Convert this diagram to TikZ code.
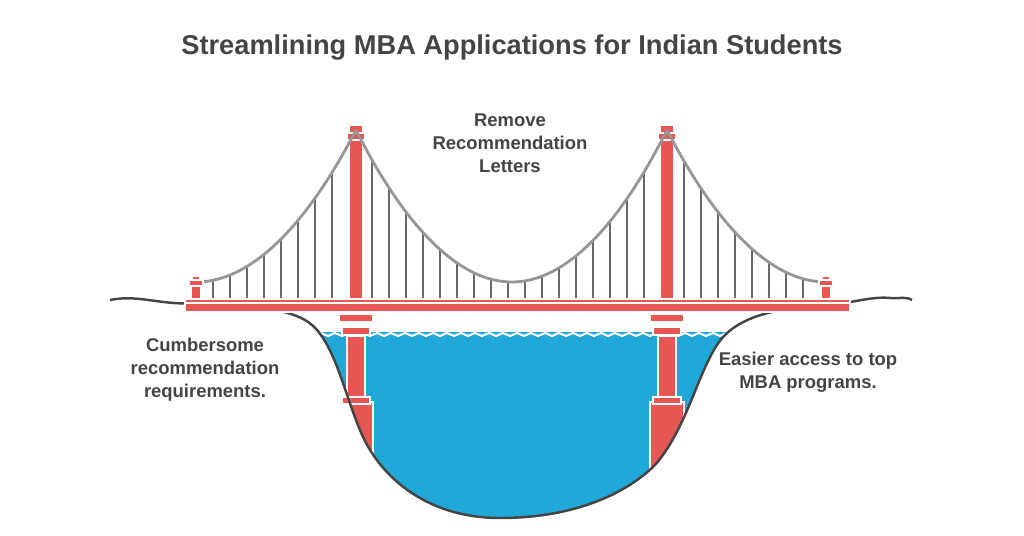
\documentclass[tikz,border=0pt]{standalone}
\usepackage{fontspec}
\setmainfont{Liberation Sans}
\definecolor{towerred}{RGB}{229, 87, 83}
\definecolor{waterblue}{RGB}{31, 168, 216}
\definecolor{inkgray}{RGB}{68, 68, 68}
\definecolor{cablegray}{RGB}{150, 150, 150}
\tikzset{
  label/.style={font=\bfseries\fontsize{10.5}{13}\selectfont, text=inkgray, align=center},
  redpart/.style={fill=towerred, draw=white, line width=0.6pt},
  hanger/.style={draw=inkgray!80, line width=1pt},
  cable/.style={draw=cablegray, line width=1.6pt}
}
\newcommand{\bowl}{(110,300) .. controls (140,294) and (160,306) .. (200,303)
  .. controls (260,306) and (295,310) .. (312,325)
  .. controls (335,345) and (345,395) .. (360,430)
  .. controls (378,475) and (425,518) .. (500,518)
  .. controls (580,518) and (630,490) .. (655,465)
  .. controls (690,425) and (700,360) .. (725,335)
  .. controls (745,315) and (780,308) .. (820,306)
  .. controls (850,304) and (870,296) .. (890,298)
  .. controls (900,299) and (905,296) .. (912,300)}
\begin{document}
\begin{tikzpicture}[x=0.02cm, y=-0.02cm]
  \useasboundingbox (0,0) rectangle (1024,536);
  \node[font=\bfseries\fontsize{15.5}{19}\selectfont, text=inkgray] (title) at (512,48) {Streamlining MBA Applications for Indian Students};
  % water
  \begin{scope}
    \clip (0,333) rectangle (1024,536);
    \fill[waterblue] \bowl -- cycle;
  \end{scope}
  \begin{scope}
    \clip \bowl -- cycle;
    \draw[white, line width=1.2pt] (300,336) \foreach \i in {0,...,32} {-- ++(7,-3) -- ++(7,3)};
  \end{scope}
  % lower towers
  \foreach \tx/\nm in {356/west, 667/east} {
    \begin{scope}
      \clip \bowl -- cycle;
      \filldraw[redpart] (\tx-17,402) rectangle (\tx+17,536);
    \end{scope}
    \filldraw[redpart] (\tx-9,336) rectangle (\tx+9,402);
    \filldraw[redpart] (\tx-14,327) rectangle (\tx+14,335);
    \filldraw[redpart] (\tx-17,314) rectangle (\tx+17,322);
    \filldraw[redpart] (\tx-14,397) rectangle (\tx+14,404);
    \filldraw[redpart] (\tx-7,125) rectangle (\tx+7,300);
    \filldraw[redpart] (\tx-9,133) rectangle (\tx+9,140);
    \coordinate (top-\nm) at (\tx,130);
  }
  \draw[inkgray, line width=1.4pt] \bowl;
  % hangers
  \foreach \hx in {213,230,...,340} {
    \pgfmathsetmacro{\hy}{282-152*((\hx-196)/160)^2}
    \draw[hanger] (\hx,\hy) -- (\hx,300);
  }
  \foreach \hx in {372,389,...,655} {
    \pgfmathsetmacro{\hy}{282-152*((\hx-512)/155.5)^2}
    \draw[hanger] (\hx,\hy) -- (\hx,300);
  }
  \foreach \hx in {684,701,...,815} {
    \pgfmathsetmacro{\hy}{282-152*((826-\hx)/159)^2}
    \draw[hanger] (\hx,\hy) -- (\hx,300);
  }
  % cables
  \coordinate (end-west) at (196,282);
  \coordinate (end-east) at (826,282);
  \draw[cable] (end-west) parabola (top-west);
  \draw[cable] (top-west) parabola bend (512,282) (top-east);
  \draw[cable] (end-east) parabola (top-east);
  % end posts and deck
  \foreach \ex in {196, 826} {
    \filldraw[redpart] (\ex-5,285) rectangle (\ex+5,300);
    \filldraw[redpart] (\ex-7,280) rectangle (\ex+7,286);
    \filldraw[redpart] (\ex-4,276) rectangle (\ex+4,280);
  }
  \filldraw[redpart] (185,299) rectangle (850,312);
  \draw[white, line width=1pt] (185,303) -- (850,303);
  % labels
  \node[label] (remove) at (510,143) {Remove\\Recommendation\\Letters};
  \node[label] (cumbersome) at (205,370) {Cumbersome\\recommendation\\requirements.};
  \node[label] (easier) at (808,372) {Easier access to top\\MBA programs.};
\end{tikzpicture}
\end{document}
